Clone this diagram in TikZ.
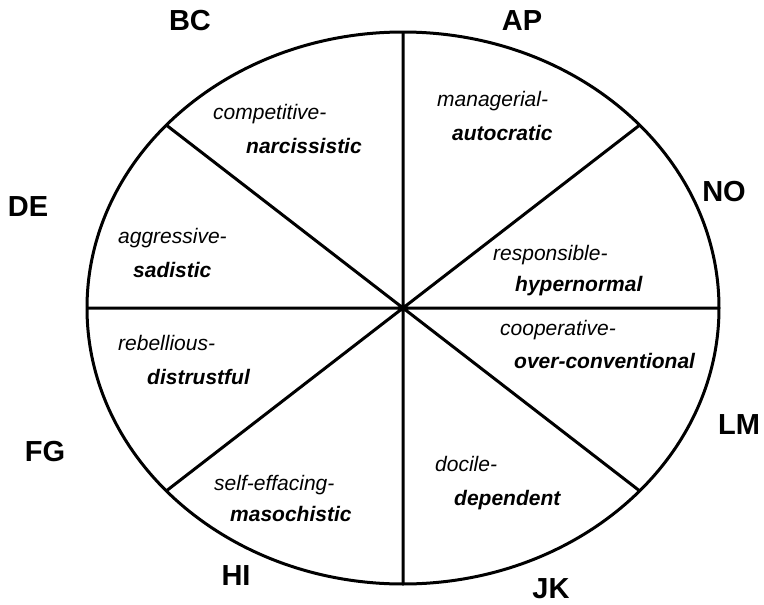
\documentclass[tikz,border=0pt]{standalone}
\usepackage{fontspec}
\setmainfont{Liberation Sans}
\usetikzlibrary{calc}
\begin{document}
\begin{tikzpicture}[x=1pt,y=-1pt,
    wheel/.style={line width=3pt},
    octant/.style={font=\fontsize{29}{29}\selectfont\bfseries},
    trait/.style={anchor=base west,inner sep=0pt,font=\fontsize{21}{21}\selectfont\itshape},
    strong/.style={trait,font=\fontsize{21}{21}\selectfont\bfseries\itshape}]
  \useasboundingbox (0,0) rectangle (764,605);
  \coordinate (c) at (403,308);
  % rim points, named by angle
  \foreach \a/\n in {0/e,41.5/ne,90/n,138.5/nw,180/w,221.5/sw,270/s,318.5/se}
    \coordinate (\n) at ($(c)+({316*cos(\a)},{-276*sin(\a)})$);
  \draw[wheel] (c) ellipse [x radius=316,y radius=276];
  \draw[wheel] (n) -- (s) (e) -- (w) (ne) -- (sw) (nw) -- (se);
  % octant labels
  \node[octant] (bc) at (190,21) {BC};
  \node[octant] (ap) at (522,21) {AP};
  \node[octant] (de) at (28,207) {DE};
  \node[octant] (no) at (724,192) {NO};
  \node[octant] (fg) at (45,452) {FG};
  \node[octant] (lm) at (739,425) {LM};
  \node[octant] (hi) at (236,576) {HI};
  \node[octant] (jk) at (551,589) {JK};
  % traits
  \node[trait] (comp) at (213,119) {competitive-};
  \node[strong] (narc) at (246,153) {narcissistic};
  \node[trait] (mana) at (437,106) {managerial-};
  \node[strong] (auto) at (452,140) {autocratic};
  \node[trait] (aggr) at (118,243) {aggressive-};
  \node[strong] (sadi) at (133,277) {sadistic};
  \node[trait] (resp) at (493,260) {responsible-};
  \node[strong] (hype) at (515,291) {hypernormal};
  \node[trait] (rebe) at (118,350) {rebellious-};
  \node[strong] (dist) at (147,384) {distrustful};
  \node[trait] (coop) at (500,335) {cooperative-};
  \node[strong] (over) at (514,368) {over-conventional};
  \node[trait] (self) at (214,490) {self-effacing-};
  \node[strong] (maso) at (230,521) {masochistic};
  \node[trait] (doci) at (435,471) {docile-};
  \node[strong] (depe) at (454,505) {dependent};
\end{tikzpicture}
\end{document}
